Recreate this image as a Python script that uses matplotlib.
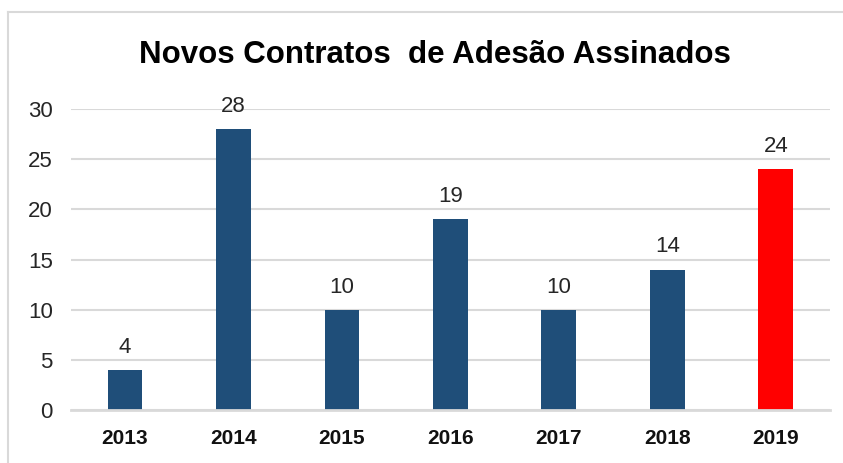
import matplotlib
matplotlib.use("Agg")
import matplotlib.pyplot as plt
from matplotlib.lines import Line2D

years = ["2013", "2014", "2015", "2016", "2017", "2018", "2019"]
values = [4, 28, 10, 19, 10, 14, 24]
bar_colors = ["#1F4E79"] * 6 + ["#FF0000"]
title = "Novos Contratos  de Adesão Assinados"
yticks = [0, 5, 10, 15, 20, 25, 30]

plt.rcParams["font.family"] = ["Liberation Sans", "DejaVu Sans"]

fig = plt.figure(figsize=(8.43, 4.63), dpi=100)
ax = fig.add_axes([70.75 / 843, 53 / 463, (830 - 70.75) / 843, 301 / 463])

x = list(range(len(years)))
ax.bar(x, values, width=0.32, color=bar_colors, zorder=3)
for xi, v in zip(x, values):
    ax.text(xi, v + 1.2, str(v), ha="center", va="bottom", fontsize=16,
            color="#262626", clip_on=False)

ax.set_xlim(-0.5, len(years) - 0.5)
ax.set_ylim(0, 30)
ax.set_yticks(yticks)
ax.set_yticklabels([str(t) for t in yticks], fontsize=16, color="#262626")
ax.set_xticks(x)
ax.set_xticklabels(years, fontsize=15, fontweight="bold", color="#111111")
ax.tick_params(axis="x", length=0, pad=14)
ax.tick_params(axis="y", length=0, pad=13)

ax.grid(axis="y", color="#D9D9D9", linewidth=1.5, zorder=0)
for s in ["top", "right", "left"]:
    ax.spines[s].set_visible(False)
ax.spines["bottom"].set_color("#D9D9D9")
ax.spines["bottom"].set_linewidth(2)
ax.spines["bottom"].set_zorder(4)

fig.text(435 / 843, 1 - 55 / 463, title, ha="center", va="center",
         fontsize=22.5, fontweight="bold", color="#000000")

# outer chart frame (top and left edges visible)
fig.add_artist(Line2D([8 / 843, 1], [1 - 12 / 463, 1 - 12 / 463], color="#D9D9D9",
                      linewidth=1.5, transform=fig.transFigure))
fig.add_artist(Line2D([8 / 843, 8 / 843], [0, 1 - 12 / 463], color="#D9D9D9",
                      linewidth=1.5, transform=fig.transFigure))

fig.savefig("out.png", dpi=100)
